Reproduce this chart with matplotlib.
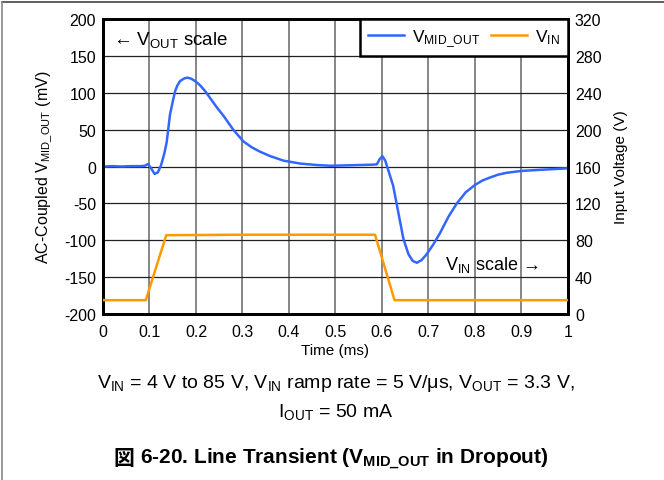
import matplotlib
matplotlib.use('Agg')
import matplotlib.pyplot as plt
from matplotlib.lines import Line2D

plt.rcParams['font.family'] = ['Liberation Sans', 'Noto Sans CJK JP', 'DejaVu Sans']
plt.rcParams['mathtext.fontset'] = 'custom'
plt.rcParams['mathtext.rm'] = 'Liberation Sans'
plt.rcParams['mathtext.it'] = 'Liberation Sans:italic'
plt.rcParams['mathtext.bf'] = 'Liberation Sans:bold'
plt.rcParams['axes.unicode_minus'] = False

# V_MID_OUT, AC coupled (mV) vs time (ms)
t_mid = [0, 0.02, 0.04, 0.06, 0.08, 0.09, 0.097, 0.104, 0.111, 0.118, 0.125,
         0.132, 0.137, 0.144, 0.15, 0.155, 0.16, 0.166, 0.175, 0.182, 0.19,
         0.2, 0.209, 0.22, 0.245, 0.26, 0.28, 0.302, 0.32, 0.338, 0.36, 0.388,
         0.424, 0.46, 0.488, 0.52, 0.55, 0.58, 0.589, 0.595, 0.601, 0.607,
         0.615, 0.624, 0.635, 0.646, 0.657, 0.666, 0.675, 0.685, 0.696, 0.71,
         0.725, 0.743, 0.761, 0.78, 0.8, 0.816, 0.832, 0.85, 0.868, 0.9,
         0.94, 0.97, 1.0]
v_mid = [0, 0.5, 0, 0.5, 0.5, 1, 3.5, -3, -10, -8, 2,
         18, 33, 70, 88, 102, 110, 116, 119.5, 120.5, 119,
         115, 110, 102, 80, 68, 50, 34, 26, 20, 14, 8,
         4, 2, 1, 1.5, 2, 2.5, 3, 10, 14, 8,
         -8, -26, -62, -98, -119, -128, -130.5, -127, -119, -106,
         -90, -68, -50, -35, -25, -19, -15, -11, -8.5, -6,
         -4.5, -3.5, -2.5]

# V_IN (V) vs time (ms)
t_in = [0, 0.092, 0.136, 0.3, 0.5, 0.585, 0.627, 0.8, 1.0]
v_in = [15, 15, 85.5, 86, 86, 86, 15, 15, 15]

x_ticks = [0, 0.1, 0.2, 0.3, 0.4, 0.5, 0.6, 0.7, 0.8, 0.9, 1]
x_labels = ['0', '0.1', '0.2', '0.3', '0.4', '0.5', '0.6', '0.7', '0.8', '0.9', '1']
left_ticks = list(range(-200, 201, 50))
right_ticks = list(range(0, 321, 40))

blue = '#3366FF'
orange = '#FF9900'

fig = plt.figure(figsize=(6.64, 4.81), dpi=100)
ax = fig.add_axes([0.1551, 0.3451, 0.7003, 0.6133])
ax2 = ax.twinx()

ax.plot(t_mid, v_mid, color=blue, lw=1.8, zorder=3)
ax2.plot(t_in, v_in, color=orange, lw=1.8, zorder=3)

ax.set_xlim(0, 1)
ax.set_ylim(-200, 200)
ax2.set_ylim(0, 320)
ax.set_xticks(x_ticks)
ax.set_xticklabels(x_labels)
ax.set_yticks(left_ticks)
ax2.set_yticks(right_ticks)

for x in x_ticks[1:-1]:
    ax.axvline(x, color='#666666', lw=1.1, zorder=1)
for y in left_ticks[1:-1]:
    ax.axhline(y, color='#222222', lw=0.9, zorder=1)

for a in (ax, ax2):
    a.tick_params(length=0, labelsize=11.5, pad=5)
    for s in a.spines.values():
        s.set_linewidth(2)
ax.tick_params(axis='x', pad=7)
ax2.patch.set_visible(False)

ax.set_xlabel('Time (ms)', fontsize=11, labelpad=3)
ax.set_ylabel(r'AC-Coupled V$_{\mathrm{MID\_OUT}}$ (mV)', fontsize=11.5, labelpad=7)
ax2.set_ylabel('Input Voltage (V)', fontsize=11, labelpad=9)

ax.text(0.022, 173, r'← V$_{\mathrm{OUT}}$ scale', fontsize=13.5, va='center', ha='left')
ax.text(0.735, -132, r'V$_{\mathrm{IN}}$ scale →', fontsize=13, va='center', ha='left',
        zorder=4)

handles = [Line2D([], [], color=blue, lw=1.8), Line2D([], [], color=orange, lw=1.8)]
leg = ax2.legend(handles, [r'V$_{\mathrm{MID\_OUT}}$', r'V$_{\mathrm{IN}}$'],
                 loc='upper right', ncol=2, fontsize=12.5, fancybox=False,
                 framealpha=1, edgecolor='black', borderaxespad=0,
                 handlelength=2.05, columnspacing=0.6, handletextpad=0.5,
                 borderpad=0.45)
leg.get_frame().set_linewidth(1.8)

fig.text(0.505, 0.203,
         r'V$_{\mathrm{IN}}$ = 4 V to 85 V, V$_{\mathrm{IN}}$ ramp rate = 5 V/μs, '
         r'V$_{\mathrm{OUT}}$ = 3.3 V,',
         fontsize=14, ha='center', va='center')
fig.text(0.505, 0.143, r'I$_{\mathrm{OUT}}$ = 50 mA', fontsize=14,
         ha='center', va='center')

# caption: CJK glyph drawn separately (mathtext has no font fallback)
kanji = fig.text(0, 0.047, '図', fontsize=15, fontweight='bold',
                 family='Noto Sans CJK JP', ha='left', va='center')
rest = fig.text(0, 0.047, r'6-20. Line Transient (V$_{\mathbf{MID\_OUT}}$ in Dropout)',
                fontsize=15, fontweight='bold', ha='left', va='center')
r = fig.canvas.get_renderer()
w1 = kanji.get_window_extent(r).width
w2 = rest.get_window_extent(r).width
gap = 6
x0 = 331 - (w1 + gap + w2) / 2
kanji.set_x(x0 / 664)
rest.set_x((x0 + w1 + gap) / 664)

# page frame (top and left edges)
fig.add_artist(Line2D([0.003, 1], [0.994, 0.994], color='#444444', lw=1.2))
fig.add_artist(Line2D([0.003, 0.003], [0, 0.994], color='#888888', lw=1.2))

fig.savefig('out.png', dpi=100)
